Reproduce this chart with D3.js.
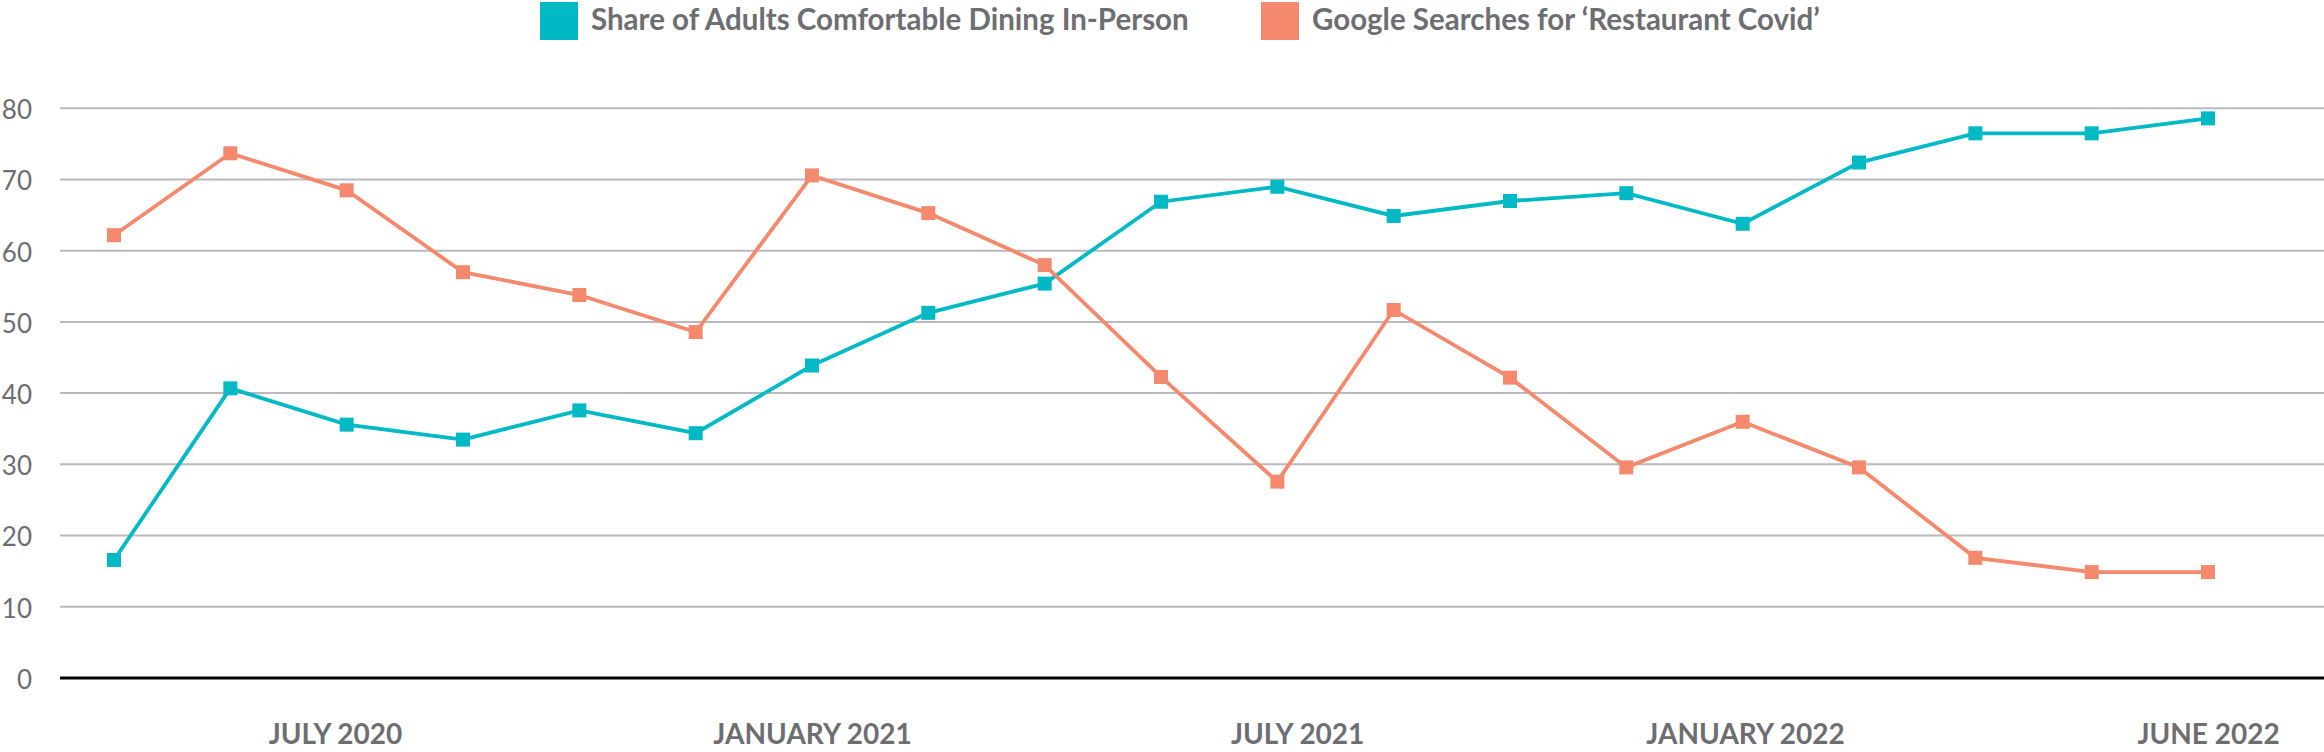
<!DOCTYPE html>
<html>
<head>
<meta charset="utf-8">
<script src="https://cdn.jsdelivr.net/npm/d3@7"></script>
<style>
  html, body { margin: 0; padding: 0; background: #ffffff; }
  svg { display: block; font-family: Lato, "Open Sans", sans-serif; }
</style>
</head>
<body>
<svg id="chart" width="2324" height="752"></svg>
<script>
// ---- data ----
const categories = ["W1","W2","W3","W4","W5","W6","W7","W8","W9","W10","W11","W12","W13","W14","W15","W16","W17","W18","W19"];
const comfortableDining = [16.5, 40.6, 35.5, 33.4, 37.5, 34.3, 43.8, 51.2, 55.3, 66.8, 68.9, 64.8, 66.9, 68.0, 63.7, 72.3, 76.4, 76.4, 78.5];
const restaurantCovidSearches = [62.1, 73.6, 68.4, 56.9, 53.7, 48.5, 70.5, 65.2, 57.9, 42.2, 27.5, 51.6, 42.1, 29.5, 35.9, 29.5, 16.8, 14.8, 14.8];
const seriesNames = ["Share of Adults Comfortable Dining In-Person", "Google Searches for \u2018Restaurant Covid\u2019"];
const xTickLabels = ["JULY 2020", "JANUARY 2021", "JULY 2021", "JANUARY 2022", "JUNE 2022"];
const xTickIndex = [1.9, 6.0, 10.17, 14.02, 18];
const yTicks = [0, 10, 20, 30, 40, 50, 60, 70, 80];

// ---- layout / style ----
const W = 2324, H = 752;
const plotLeft = 60, plotRight = W;
const colors = ["#00b9c5", "#f4896d"];
const textColor = "#6d6e72";

const svg = d3.select("#chart");

const x = d3.scaleLinear().domain([0, categories.length - 1]).range([114, 2208]);
const y = d3.scaleLinear().domain([0, 80]).range([677.5, 107.7]);

// y axis with gridlines
const yAxis = svg.append("g")
  .attr("transform", `translate(${plotLeft},0)`)
  .call(d3.axisLeft(y).tickValues(yTicks).tickSize(-(plotRight - plotLeft)).tickPadding(28).tickFormat(d3.format("d")));
yAxis.select(".domain").remove();
yAxis.selectAll(".tick line")
  .attr("stroke", d => d === 0 ? "#000000" : "#b9b9be")
  .attr("stroke-width", d => d === 0 ? 3 : 2);
yAxis.selectAll(".tick text")
  .attr("fill", textColor)
  .attr("font-size", 26)
  .attr("font-family", "Lato, sans-serif")
  .attr("dy", "0.42em");

// x axis labels
const xAxis = svg.append("g")
  .attr("transform", `translate(0,${y(0)})`)
  .call(d3.axisBottom(x).tickValues(xTickIndex).tickSize(0).tickPadding(47)
    .tickFormat((d, i) => xTickLabels[i]));
xAxis.select(".domain").remove();
xAxis.selectAll(".tick text")
  .attr("fill", textColor)
  .attr("font-size", 28)
  .attr("font-weight", 700)
  .attr("font-family", "Lato, sans-serif");

// lines + markers
const seriesData = [comfortableDining, restaurantCovidSearches];
const line = d3.line().x((d, i) => x(i)).y(d => y(d));
const ms = 14;
seriesData.forEach((vals, k) => {
  svg.append("path")
    .datum(vals)
    .attr("fill", "none")
    .attr("stroke", colors[k])
    .attr("stroke-width", 3.8)
    .attr("stroke-linejoin", "miter")
    .attr("d", line);
  svg.append("g").selectAll("rect")
    .data(vals)
    .join("rect")
    .attr("x", (d, i) => x(i) - ms / 2)
    .attr("y", d => y(d) - ms / 2)
    .attr("width", ms)
    .attr("height", ms)
    .attr("fill", colors[k]);
});

// legend
const legendX = [540, 1261];
const legend = svg.append("g");
seriesNames.forEach((name, k) => {
  legend.append("rect")
    .attr("x", legendX[k]).attr("y", 2)
    .attr("width", 38).attr("height", 38)
    .attr("fill", colors[k]);
  legend.append("text")
    .attr("x", legendX[k] + 51).attr("y", 30)
    .attr("fill", textColor)
    .attr("font-size", 29.5)
    .attr("font-weight", 700)
    .attr("font-family", "Lato, sans-serif")
    .text(name);
});
</script>
</body>
</html>
